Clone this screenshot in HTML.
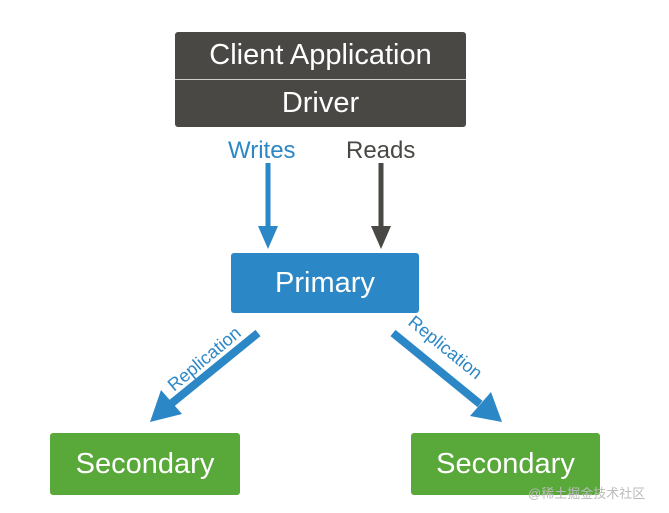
<!DOCTYPE html>
<html><head><style>
body{margin:0;width:669px;height:513px;background:#fff;position:relative;overflow:hidden;font-family:"Liberation Sans",sans-serif}
.b{position:absolute;color:#fff;text-align:center;border-radius:3px}
</style></head><body>
<div class="b" style="left:175px;top:32px;width:291px;height:95px;background:#4a4845"></div>
<div style="position:absolute;left:175px;top:79px;width:291px;height:1px;background:#ccc"></div>
<div class="b" style="left:175px;top:32px;width:291px;height:47px;line-height:47px;font-size:29px">Client Application</div>
<div class="b" style="left:175px;top:80px;width:291px;height:47px;line-height:47px;font-size:29px">Driver</div>
<div style="position:absolute;left:228px;top:137px;font-size:24px;color:#2c87c6">Writes</div>
<div style="position:absolute;left:346px;top:137px;font-size:24px;color:#4a4845">Reads</div>
<div class="b" style="left:231px;top:253px;width:188px;height:60px;line-height:60px;font-size:29px;background:#2c87c6">Primary</div>
<div class="b" style="left:50px;top:433px;width:190px;height:62px;line-height:62px;font-size:29px;background:#58a83a">Secondary</div>
<div class="b" style="left:411px;top:433px;width:189px;height:62px;line-height:62px;font-size:29px;background:#58a83a">Secondary</div>
<svg width="669" height="513" style="position:absolute;left:0;top:0">
<line x1="268" y1="163" x2="268" y2="228" stroke="#2c87c6" stroke-width="5"/>
<polygon points="258,226 278,226 268,249" fill="#2c87c6"/>
<line x1="381" y1="163" x2="381" y2="228" stroke="#4a4845" stroke-width="5"/>
<polygon points="371,226 391,226 381,249" fill="#4a4845"/>
<line x1="258" y1="333" x2="172" y2="403" stroke="#2c87c6" stroke-width="8"/>
<polygon points="161,390 182,414 150,422" fill="#2c87c6"/>
<line x1="393" y1="333" x2="480" y2="404" stroke="#2c87c6" stroke-width="8"/>
<polygon points="470,416 491,392 502,422" fill="#2c87c6"/>
<text x="0" y="0" transform="translate(174,392) rotate(-40)" font-size="18" fill="#2c87c6" font-family="Liberation Sans">Replication</text>
<text x="0" y="0" transform="translate(407,324) rotate(39)" font-size="18" fill="#2c87c6" font-family="Liberation Sans">Replication</text>
</svg>
<div style="position:absolute;left:528px;top:483px;font-size:13px;color:#bbb;font-family:'Liberation Sans','Noto Sans CJK SC',sans-serif">@稀土掘金技术社区</div>
</body></html>
